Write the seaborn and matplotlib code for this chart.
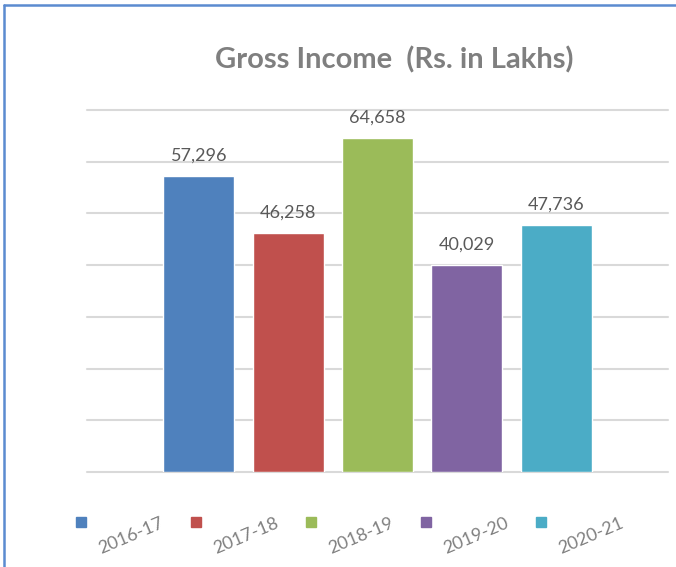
import matplotlib
matplotlib.use("Agg")
import matplotlib.pyplot as plt
import seaborn as sns
import pandas as pd
from matplotlib.lines import Line2D
from matplotlib.patches import Rectangle

years = ["2016-17", "2017-18", "2018-19", "2019-20", "2020-21"]
income = [57296, 46258, 64658, 40029, 47736]
colors = ["#4F81BD", "#C0504D", "#9BBB59", "#8064A2", "#4BACC6"]
title = "Gross Income  (Rs. in Lakhs)"

sns.set_theme(style="white")
plt.rcParams["font.family"] = ["Lato", "DejaVu Sans"]

W, H = 676, 567
fig = plt.figure(figsize=(W / 100, H / 100), dpi=100)
ax = fig.add_axes([87 / W, (H - 472) / H, (668 - 87) / W, (472 - 110) / H])

df = pd.DataFrame({"year": years, "income": income})
sns.barplot(data=df, x="year", y="income", hue="year", palette=colors,
            width=0.795, legend=False, ax=ax, saturation=1)

ax.set_xlim(2 - 3.253, 2 + 3.253)
ax.set_ylim(0, 70000)
ax.set_yticks(range(0, 70001, 10000))
ax.yaxis.grid(True, color="#D9D9D9", linewidth=1.5)
ax.set_axisbelow(True)
for gl in ax.get_ygridlines():
    gl.set_clip_on(False)
ax.tick_params(left=False, bottom=False, labelleft=False, labelbottom=False)
ax.set_xlabel("")
ax.set_ylabel("")
for s in ax.spines.values():
    s.set_visible(False)

for i, v in enumerate(income):
    ax.annotate(f"{v:,}", (i, v), xytext=(0, 9), textcoords="offset points",
                ha="center", va="bottom", fontsize=13, color="#595959")

fig.text(394 / W, 1 - 60 / H, title, ha="center", va="center",
         fontsize=21, fontweight="bold", color="#7F7F7F")

# legend (rotated labels)
for i, (y, c) in enumerate(zip(years, colors)):
    mx = 81 + 115 * i
    fig.add_artist(Rectangle(((mx - 5) / W, 1 - 527 / H), 10 / W, 10 / H,
                             transform=fig.transFigure, color=c))
    fig.text((mx + 50) / W, 1 - 536 / H, y, rotation=23, rotation_mode="anchor",
             ha="center", va="center", fontsize=13, color="#808080")

# chart frame
fig.add_artist(Line2D([4 / W, 1], [1 - 5 / H, 1 - 5 / H], transform=fig.transFigure,
                      color="#5B8BD0", linewidth=1.8))
fig.add_artist(Line2D([4 / W, 4 / W], [0, 1 - 5 / H], transform=fig.transFigure,
                      color="#5B8BD0", linewidth=1.8))

fig.savefig("out.png", dpi=100)
